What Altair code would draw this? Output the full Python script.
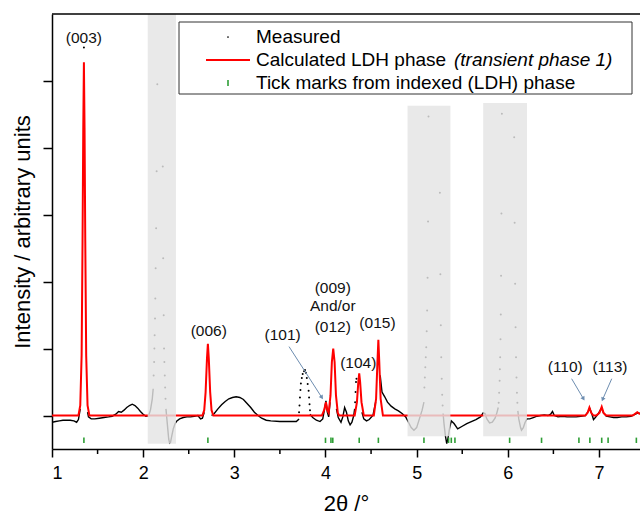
import altair as alt
import pandas as pd

FONT = "Liberation Sans"

# ---------------- data ----------------
# Measured pattern: dense parts (drawn as a line), segment by segment
meas_seg_1 = [(1.00, -0.10), (1.04, -0.09), (1.08, -0.08), (1.12, -0.07), (1.16, -0.07), (1.20, -0.07),
              (1.24, -0.08), (1.27, -0.10), (1.29, -0.06), (1.31, 0.10)]
meas_seg_2 = [(1.39, 0.05), (1.40, -0.02), (1.43, -0.05), (1.47, -0.05), (1.52, -0.04), (1.57, -0.03), (1.62, -0.02),
              (1.66, -0.01), (1.70, 0.02), (1.73, 0.06), (1.76, 0.05), (1.79, 0.08), (1.82, 0.12),
              (1.85, 0.15), (1.88, 0.17), (1.91, 0.15), (1.94, 0.11), (1.97, 0.06), (2.00, 0.02),
              (2.03, -0.01), (2.06, 0.00), (2.08, 0.08), (2.10, 0.25), (2.11, 0.40)]
meas_seg_3 = [(2.25, 0.10), (2.26, -0.05), (2.27, -0.20), (2.28, -0.35), (2.29, -0.41), (2.30, -0.40),
              (2.31, -0.33), (2.33, -0.20), (2.35, -0.12), (2.37, -0.08), (2.40, -0.05), (2.44, -0.03),
              (2.48, -0.02), (2.52, -0.02), (2.56, -0.01), (2.60, 0.00), (2.63, -0.05), (2.65, -0.04),
              (2.67, 0.05)]
meas_seg_4 = [(2.75, 0.00), (2.78, 0.03), (2.82, 0.10), (2.86, 0.16), (2.90, 0.21), (2.94, 0.25), (2.98, 0.27),
              (3.02, 0.28), (3.06, 0.27), (3.10, 0.24), (3.14, 0.18), (3.18, 0.12), (3.22, 0.05),
              (3.26, 0.00), (3.30, -0.04), (3.35, -0.07), (3.40, -0.08), (3.50, -0.09), (3.60, -0.09),
              (3.68, -0.09), (3.71, -0.05)]
meas_seg_5 = [(3.83, 0.02), (3.86, -0.03), (3.90, -0.07), (3.94, -0.09), (3.97, -0.05), (3.99, 0.10),
              (4.005, 0.22), (4.02, 0.05), (4.035, -0.02), (4.05, 0.20)]
meas_seg_6 = [(4.12, 0.10), (4.14, -0.03), (4.17, -0.10), (4.19, -0.02), (4.21, 0.12), (4.23, 0.05),
              (4.25, -0.08), (4.27, -0.14), (4.29, -0.10), (4.31, 0.00), (4.32, 0.10)]
meas_seg_7 = [(4.40, 0.05), (4.42, -0.05), (4.45, -0.08), (4.48, -0.06), (4.52, 0.00), (4.55, 0.20)]
meas_seg_8 = [(4.60, 0.60), (4.62, 0.35), (4.65, 0.28), (4.68, 0.20), (4.72, 0.14), (4.76, 0.10),
              (4.80, 0.07), (4.84, 0.03), (4.88, -0.02), (4.91, -0.10), (4.94, -0.18), (4.97, -0.22),
              (5.00, -0.18), (5.03, -0.05), (5.06, 0.08), (5.08, 0.20)]
meas_seg_9 = [(5.29, 0.03), (5.30, -0.12), (5.315, -0.30), (5.33, -0.42), (5.345, -0.33), (5.36, -0.20),
              (5.38, -0.08), (5.41, -0.12), (5.45, -0.20), (5.50, -0.16), (5.55, -0.12), (5.60, -0.09),
              (5.65, -0.06), (5.70, -0.02), (5.73, 0.04), (5.75, 0.03), (5.77, -0.05), (5.80, -0.11),
              (5.83, -0.10), (5.86, -0.04), (5.88, 0.04), (5.895, 0.12)]
meas_seg_10 = [(6.11, 0.07), (6.12, -0.05), (6.14, -0.18), (6.15, -0.22), (6.17, -0.18), (6.19, -0.10),
               (6.21, -0.05), (6.24, -0.05), (6.28, -0.03), (6.32, -0.01), (6.36, 0.00), (6.40, 0.01),
               (6.44, 0.00), (6.47, 0.02), (6.49, 0.06), (6.51, 0.00), (6.55, -0.02), (6.60, -0.01),
               (6.65, -0.02), (6.70, -0.02), (6.75, -0.02), (6.80, -0.01), (6.85, 0.00), (6.88, 0.06),
               (6.90, 0.10), (6.92, 0.03), (6.94, -0.06), (6.96, -0.03), (6.99, 0.02), (7.01, 0.07),
               (7.03, 0.11), (7.05, 0.04), (7.08, -0.01), (7.12, -0.02), (7.16, -0.03), (7.20, -0.03),
               (7.25, -0.02), (7.30, -0.02), (7.35, -0.01), (7.40, 0.02), (7.43, 0.04), (7.45, 0.03)]
meas_segments = [meas_seg_1, meas_seg_2, meas_seg_3, meas_seg_4, meas_seg_5, meas_seg_6,
                 meas_seg_7, meas_seg_8, meas_seg_9, meas_seg_10]

# Measured pattern: sparse (steep) parts, drawn as single dots
meas_dots_x = [1.35,
               2.115, 2.12, 2.123, 2.126, 2.13, 2.133, 2.137, 2.142, 2.148, 2.155,
               2.215, 2.22, 2.225, 2.229, 2.233, 2.237, 2.241, 2.245,
               3.71, 3.715, 3.72, 3.725, 3.73, 3.74, 3.75, 3.765, 3.775, 3.785, 3.795, 3.805, 3.815, 3.82, 3.825, 3.83,
               4.325, 4.33, 4.335, 4.34,
               5.085, 5.09, 5.095, 5.10, 5.105, 5.11, 5.115, 5.12, 5.125, 5.13,
               5.255, 5.26, 5.265, 5.27, 5.275, 5.28, 5.285,
               5.90, 5.905, 5.91, 5.913, 5.916, 5.92, 5.923, 5.926, 5.93, 5.935,
               6.07, 6.075, 6.08, 6.085, 6.09, 6.095, 6.10, 6.105]
meas_dots_y = [5.50,
               0.60, 0.80, 1.00, 1.20, 1.45, 1.75, 2.20, 2.80, 3.65, 4.95,
               3.72, 2.35, 1.50, 1.00, 0.80, 0.60, 0.42, 0.25,
               0.05, 0.15, 0.27, 0.38, 0.48, 0.56, 0.62, 0.66, 0.68, 0.64, 0.56, 0.47, 0.37, 0.27, 0.17, 0.08,
               0.20, 0.35, 0.50, 0.55,
               0.42, 0.57, 0.72, 0.87, 1.02, 1.26, 1.57, 2.06, 2.90, 4.47,
               3.33, 2.11, 1.35, 0.87, 0.55, 0.31, 0.15,
               0.19, 0.34, 0.52, 0.69, 0.87, 1.14, 1.51, 2.09, 3.02, 4.51,
               4.16, 2.88, 1.97, 1.32, 0.87, 0.57, 0.34, 0.19]

# Calculated LDH phase
calc_x = [1.00, 1.29, 1.31, 1.325, 1.335, 1.343, 1.35, 1.357, 1.365, 1.375, 1.39, 1.41,
          2.65, 2.67, 2.685, 2.70, 2.71, 2.72, 2.735, 2.75, 2.77,
          3.96, 3.985, 4.005, 4.02, 4.035, 4.055, 4.07, 4.085, 4.10, 4.115, 4.135, 4.15,
          4.32, 4.345, 4.36, 4.37, 4.38, 4.395, 4.42,
          4.53, 4.555, 4.57, 4.58, 4.59, 4.605, 4.63,
          6.85, 6.875, 6.895, 6.915, 6.94, 6.97, 7.005, 7.03, 7.05, 7.08,
          7.37, 7.42, 7.45]
calc_y = [0, 0, 0.15, 0.9, 2.6, 4.3, 5.28, 4.3, 2.6, 0.9, 0.15, 0,
          0, 0.08, 0.35, 0.85, 1.07, 0.85, 0.35, 0.08, 0,
          0, 0.08, 0.20, 0.08, 0.04, 0.30, 0.80, 1.00, 0.80, 0.30, 0.04, 0,
          0, 0.20, 0.50, 0.63, 0.50, 0.20, 0,
          0, 0.25, 0.80, 1.13, 0.80, 0.25, 0,
          0, 0.04, 0.12, 0.04, 0, 0, 0.04, 0.13, 0.04, 0,
          0, 0.05, 0.02]

# Tick marks from indexed (LDH) phase
hkl_ticks = [1.35, 2.71, 4.00, 4.06, 4.08, 4.37, 4.58, 5.08, 5.35, 5.38, 5.42,
             6.02, 6.37, 6.78, 6.90, 7.03, 7.10, 7.41]

# Excluded regions (grey overlays)
band_x0 = [2.05, 4.90, 5.73]
band_x1 = [2.36, 5.37, 6.21]
band_y0 = [-0.42, -0.31, -0.31]
band_y1 = [6.00, 4.63, 4.67]

# Peak labels
ann_text = ["(003)", "(006)", "(101)", "(009)", "And/or", "(012)", "(104)", "(015)", "(110)", "(113)"]
ann_x = [1.35, 2.72, 3.53, 4.08, 4.08, 4.08, 4.36, 4.57, 6.63, 7.12]
ann_y = [5.64, 1.26, 1.21, 1.91, 1.63, 1.32, 0.79, 1.38, 0.72, 0.72]

# Arrows
arrow_x0 = [3.60, 6.70, 7.14]
arrow_y0 = [1.03, 0.55, 0.55]
arrow_x1 = [3.96, 6.83, 7.04]
arrow_y1 = [0.27, 0.25, 0.24]
arrow_angle = [147, 149, 203]

# Legend
leg_labels = ["Measured", "Calculated LDH phase", "(transient phase 1)", "Tick marks from indexed (LDH) phase"]

x_ticks = [1, 2, 3, 4, 5, 6, 7]
x_minor = [1.5, 2.5, 3.5, 4.5, 5.5, 6.5]
y_ticks = [0, 1, 2, 3, 4, 5]

# ---------------- frames ----------------
rows = []
for i, seg in enumerate(meas_segments):
    for (xv, yv) in seg:
        rows.append({"x": xv, "y": yv, "seg": i})
meas_df = pd.DataFrame(rows)
dots_df = pd.DataFrame({"x": meas_dots_x, "y": meas_dots_y})
calc_df = pd.DataFrame({"x": calc_x, "y": calc_y})
tick_df = pd.DataFrame({"x": hkl_ticks, "y": [-0.41] * len(hkl_ticks), "y2": [-0.33] * len(hkl_ticks)})
band_df = pd.DataFrame({"x": band_x0, "x2": band_x1, "y": band_y0, "y2": band_y1})
ann_df = pd.DataFrame({"x": ann_x, "y": ann_y, "t": ann_text})
arr_df = pd.DataFrame({"x": arrow_x0, "y": arrow_y0, "x2": arrow_x1, "y2": arrow_y1, "a": arrow_angle})
minor_df = pd.DataFrame({"x": x_minor})

W, H = 588, 435
xs = alt.Scale(domain=[1, 7.45], nice=False, zero=False)
ys = alt.Scale(domain=[-0.5, 6], nice=False, zero=False)

x_axis = alt.Axis(values=x_ticks, format="d", tickSize=8, tickWidth=1.5, domainWidth=1.5,
                  domainColor="black", tickColor="black", labelFontSize=18, labelColor="black",
                  labelFont=FONT, labelPadding=7, grid=False, title="2θ /°", titleFont=FONT,
                  titleFontSize=22, titleFontWeight="normal", titleColor="black", titlePadding=11)
y_axis = alt.Axis(values=y_ticks, labels=False, tickSize=9, tickWidth=1.5, domainWidth=1.5,
                  domainColor="black", tickColor="black", grid=False,
                  title="Intensity / arbitrary units", titleFont=FONT, titleFontSize=22,
                  titleFontWeight="normal", titleColor="black", titlePadding=8)

meas_line = alt.Chart(meas_df).mark_line(color="black", strokeWidth=1.4, clip=True).encode(
    x=alt.X("x:Q", scale=xs, axis=x_axis),
    y=alt.Y("y:Q", scale=ys, axis=y_axis),
    detail="seg:N",
    order="x:Q",
)
meas_dots = alt.Chart(dots_df).mark_circle(color="black", size=4, opacity=1, clip=True).encode(
    x="x:Q", y="y:Q")
calc_line = alt.Chart(calc_df).mark_line(color="#ff0000", strokeWidth=2, clip=True).encode(
    x="x:Q", y="y:Q")
ticks = alt.Chart(tick_df).mark_rule(color="#2e9e35", strokeWidth=1.6).encode(
    x="x:Q", y="y:Q", y2="y2:Q")
bands = alt.Chart(band_df).mark_rect(color="#e4e4e4", opacity=0.82).encode(
    x="x:Q", x2="x2:Q", y="y:Q", y2="y2:Q")
minor = alt.Chart(minor_df).mark_rule(color="black", strokeWidth=1.5).encode(
    x="x:Q", y=alt.value(H), y2=alt.value(H + 5))
ann = alt.Chart(ann_df).mark_text(font=FONT, fontSize=15.5, color="#111111", align="center",
                                   baseline="middle").encode(x="x:Q", y="y:Q", text="t:N")
arr_lines = alt.Chart(arr_df).mark_rule(color="#6d8db0", strokeWidth=1).encode(
    x="x:Q", y="y:Q", x2="x2:Q", y2="y2:Q")
arr_heads = alt.Chart(arr_df).mark_point(shape="triangle-up", filled=True, color="#6d8db0",
                                         size=22, opacity=1).encode(
    x="x2:Q", y="y2:Q", angle=alt.Angle("a:Q", scale=None))

# top frame line
top_line = alt.Chart(pd.DataFrame({"v": [0]})).mark_rule(color="black", strokeWidth=1.5).encode(
    x=alt.value(0), x2=alt.value(W), y=alt.value(0))

# legend (pixel positions inside the plot area)
leg_box = alt.Chart(pd.DataFrame({"v": [0]})).mark_rect(fill="white", stroke="#333333",
                                                        strokeWidth=1).encode(
    x=alt.value(127), x2=alt.value(580), y=alt.value(8), y2=alt.value(80))
leg_text_df = pd.DataFrame({"t": [leg_labels[0], leg_labels[1], leg_labels[3]],
                            "px": [204, 204, 204], "py": [23, 46, 69]})
leg_text = alt.Chart(leg_text_df).mark_text(font=FONT, fontSize=19, color="black", align="left",
                                            baseline="middle").encode(
    x=alt.X("px:Q", scale=None), y=alt.Y("py:Q", scale=None), text="t:N")
leg_ital = alt.Chart(pd.DataFrame({"t": [leg_labels[2]], "px": [402], "py": [46]})).mark_text(
    font=FONT, fontSize=19, fontStyle="italic", color="black", align="left", baseline="middle").encode(
    x=alt.X("px:Q", scale=None), y=alt.Y("py:Q", scale=None), text="t:N")
leg_dot = alt.Chart(pd.DataFrame({"v": [0]})).mark_circle(color="black", size=3, opacity=1).encode(
    x=alt.value(176), y=alt.value(23))
leg_red = alt.Chart(pd.DataFrame({"v": [0]})).mark_rule(color="#ff0000", strokeWidth=2).encode(
    x=alt.value(154), x2=alt.value(198), y=alt.value(46))
leg_green = alt.Chart(pd.DataFrame({"v": [0]})).mark_rule(color="#2e9e35", strokeWidth=1.6).encode(
    x=alt.value(176), y=alt.value(66), y2=alt.value(72))

chart = alt.layer(
    meas_line, meas_dots, calc_line, ticks, bands, minor, ann, arr_lines, arr_heads,
    top_line, leg_box, leg_text, leg_ital, leg_dot, leg_red, leg_green,
).properties(
    width=W, height=H,
    padding={"left": 52, "top": 14, "right": 0, "bottom": 71},
    autosize=alt.AutoSizeParams(type="none"),
    background="white",
).configure_view(stroke=None)

chart.save("out.html", embed_options={"renderer": "svg", "actions": False})
